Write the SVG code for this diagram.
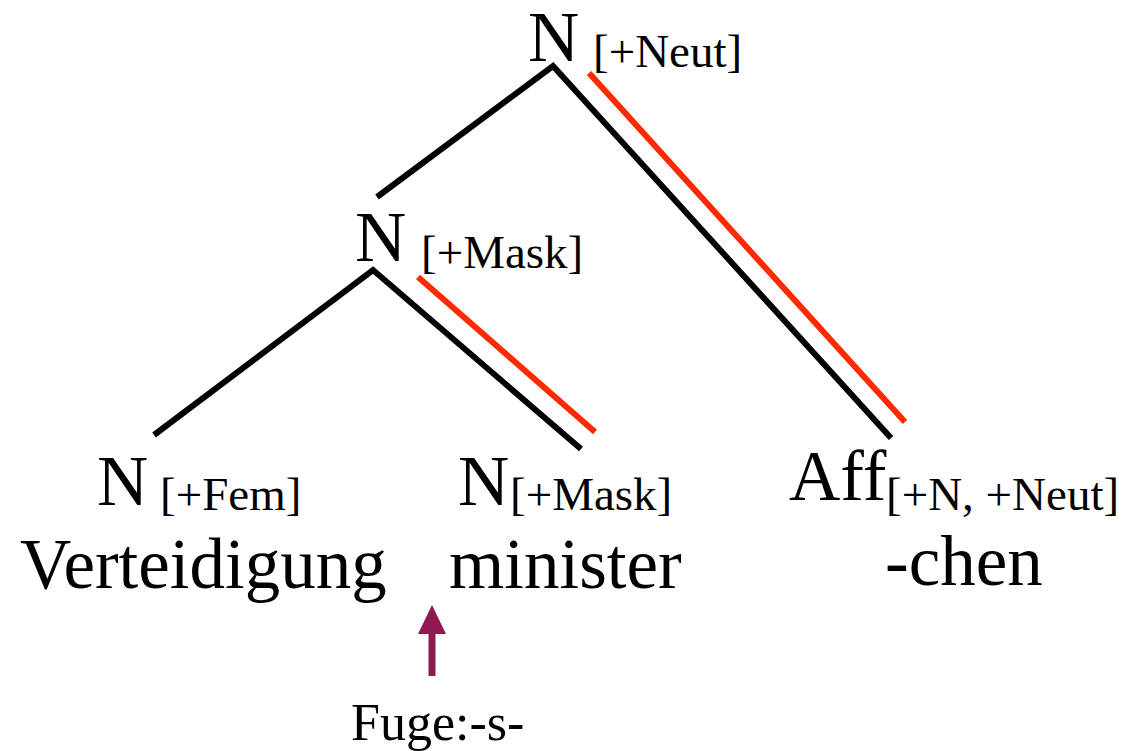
<svg xmlns="http://www.w3.org/2000/svg" width="1124" height="751" viewBox="0 0 1124 751">
<defs>
<style>
text{font-family:"Liberation Serif","Times New Roman",serif;fill:#000}
.big{font-size:71px}
.sub{font-size:47px}
.blk{stroke:#000;stroke-width:6;fill:none}
.red{stroke:#ff2a00;stroke-width:6;fill:none}
</style>
</defs>
<rect width="1124" height="751" fill="#fff"/>
<g id="connectors">
<polyline class="blk" points="377,197 553,66 891,438"/>
<line class="red" x1="589" y1="73" x2="905" y2="422"/>
<polyline class="blk" points="154,435 373,270 581,449"/>
<line class="red" x1="418" y1="277" x2="595" y2="432"/>
<g id="fuge-arrow">
<line x1="432" y1="676" x2="432" y2="628" stroke="#8e1a52" stroke-width="7"/>
<polygon points="432,605 446,634 418,634" fill="#8e1a52"/>
</g>
</g>
<g id="node-root"><text class="big" x="528" y="61">N</text><text class="sub" x="593" y="67">[+Neut]</text></g>
<g id="node-mask"><text class="big" x="355" y="261">N</text><text class="sub" x="421" y="268">[+Mask]</text></g>
<g id="node-fem"><text class="big" x="97" y="505">N</text><text class="sub" x="160" y="510">[+Fem]</text><text class="big" x="20" y="588">Verteidigung</text></g>
<g id="node-minister"><text class="big" x="458" y="505">N</text><text class="sub" x="510" y="510">[+Mask]</text><text class="big" x="449" y="588">minister</text></g>
<g id="node-aff"><text class="big" x="789" y="500">Aff</text><text class="sub" x="886" y="510">[+N, +Neut]</text><text class="big" x="885" y="585">-chen</text></g>
<g id="node-fuge"><text x="351" y="740" style="font-size:52px">Fuge:-s-</text></g>
</svg>
